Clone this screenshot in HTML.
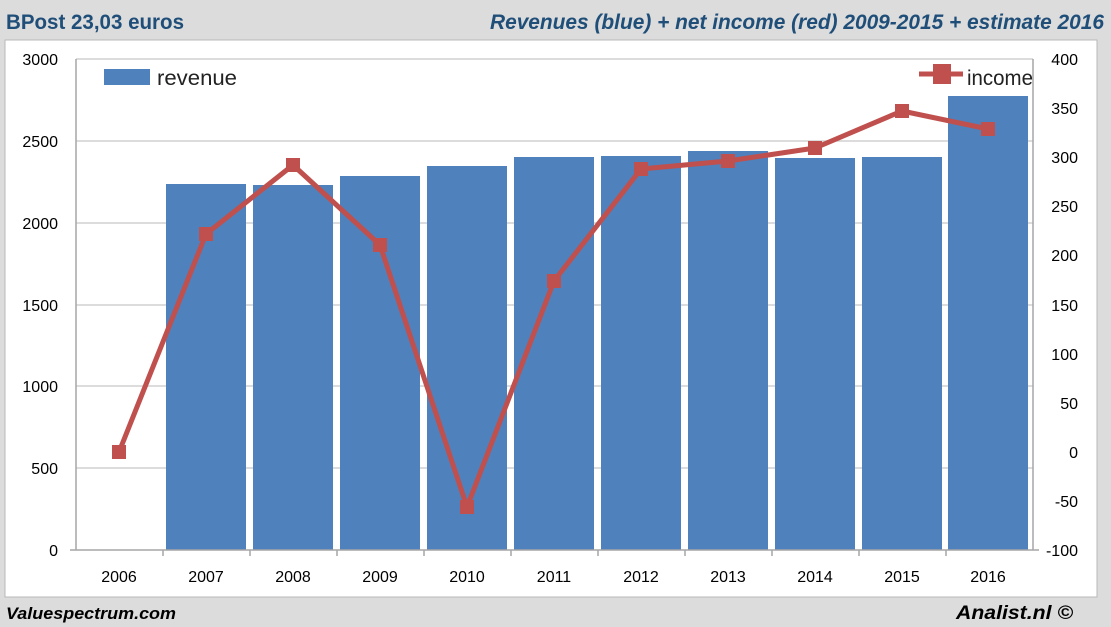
<!DOCTYPE html>
<html><head><meta charset="utf-8"><style>body{margin:0;background:#dcdcdc}svg{display:block}</style></head>
<body>
<svg width="1111" height="627" xmlns="http://www.w3.org/2000/svg" font-family="Liberation Sans, sans-serif">
<rect width="1111" height="627" fill="#dcdcdc"/>
<rect x="5" y="40" width="1092" height="557" fill="#fff" stroke="#b8b8b8"/>
<text x="6" y="29" font-size="21" font-weight="bold" fill="#1f4e79" textLength="178" lengthAdjust="spacingAndGlyphs">BPost 23,03 euros</text>
<text x="1104" y="29" font-size="21" font-weight="bold" font-style="italic" fill="#1f4e79" text-anchor="end" textLength="614" lengthAdjust="spacingAndGlyphs">Revenues (blue) + net income (red) 2009-2015 + estimate 2016</text>
<g stroke="#d0d0d0" stroke-width="1.5">
<line x1="76" y1="59" x2="1033" y2="59"/><line x1="76" y1="141" x2="1033" y2="141"/><line x1="76" y1="223" x2="1033" y2="223"/><line x1="76" y1="305" x2="1033" y2="305"/><line x1="76" y1="386" x2="1033" y2="386"/><line x1="76" y1="468" x2="1033" y2="468"/>
</g>
<g fill="#4f81bd">
<rect x="166" y="184" width="80" height="366"/><rect x="253" y="185" width="80" height="365"/><rect x="340" y="176" width="80" height="374"/><rect x="427" y="166" width="80" height="384"/><rect x="514" y="157" width="80" height="393"/><rect x="601" y="156" width="80" height="394"/><rect x="688" y="151" width="80" height="399"/><rect x="775" y="158" width="80" height="392"/><rect x="862" y="157" width="80" height="393"/><rect x="948" y="96" width="80" height="454"/>
</g>
<g stroke="#a6a6a6" stroke-width="1.5">
<line x1="76" y1="59" x2="76" y2="550"/><line x1="1033" y1="59" x2="1033" y2="550"/><line x1="70" y1="550" x2="1039" y2="550"/>
<line x1="163" y1="550" x2="163" y2="556"/><line x1="250" y1="550" x2="250" y2="556"/><line x1="337" y1="550" x2="337" y2="556"/><line x1="424" y1="550" x2="424" y2="556"/><line x1="511" y1="550" x2="511" y2="556"/><line x1="598" y1="550" x2="598" y2="556"/><line x1="685" y1="550" x2="685" y2="556"/><line x1="772" y1="550" x2="772" y2="556"/><line x1="859" y1="550" x2="859" y2="556"/><line x1="946" y1="550" x2="946" y2="556"/>
</g>
<g font-size="16" fill="#000" text-anchor="end">
<text x="58" y="65">3000</text><text x="58" y="147">2500</text><text x="58" y="229">2000</text><text x="58" y="311">1500</text><text x="58" y="392">1000</text><text x="58" y="474">500</text><text x="58" y="556">0</text>
</g>
<g font-size="16" fill="#000" text-anchor="end">
<text x="1078" y="65">400</text><text x="1078" y="114">350</text><text x="1078" y="163">300</text><text x="1078" y="212">250</text><text x="1078" y="261">200</text><text x="1078" y="311">150</text><text x="1078" y="360">100</text><text x="1078" y="409">50</text><text x="1078" y="458">0</text><text x="1078" y="507">-50</text><text x="1078" y="556">-100</text>
</g>
<g font-size="16" fill="#000" text-anchor="middle">
<text x="119" y="582">2006</text><text x="206" y="582">2007</text><text x="293" y="582">2008</text><text x="380" y="582">2009</text><text x="467" y="582">2010</text><text x="554" y="582">2011</text><text x="641" y="582">2012</text><text x="728" y="582">2013</text><text x="815" y="582">2014</text><text x="902" y="582">2015</text><text x="988" y="582">2016</text>
</g>
<polyline points="119,452 206,234 293,165 380,245 467,507 554,281 641,169 728,161 815,148 902,111 988,129" fill="none" stroke="#c0504d" stroke-width="5" stroke-linejoin="round"/>
<g fill="#c0504d">
<rect x="112" y="445" width="14" height="14"/><rect x="199" y="227" width="14" height="14"/><rect x="286" y="158" width="14" height="14"/><rect x="373" y="238" width="14" height="14"/><rect x="460" y="500" width="14" height="14"/><rect x="547" y="274" width="14" height="14"/><rect x="634" y="162" width="14" height="14"/><rect x="721" y="154" width="14" height="14"/><rect x="808" y="141" width="14" height="14"/><rect x="895" y="104" width="14" height="14"/><rect x="981" y="122" width="14" height="14"/>
</g>
<rect x="104" y="69" width="46" height="16" fill="#4f81bd"/>
<text x="157" y="85" font-size="21" fill="#222" textLength="80" lengthAdjust="spacingAndGlyphs">revenue</text>
<line x1="919" y1="74" x2="963" y2="74" stroke="#c0504d" stroke-width="5"/>
<rect x="933" y="64" width="18" height="20" fill="#c0504d"/>
<text x="967" y="85" font-size="21" fill="#222" textLength="66" lengthAdjust="spacingAndGlyphs">income</text>
<text x="6" y="619" font-size="17" font-weight="bold" font-style="italic" fill="#000" textLength="170" lengthAdjust="spacingAndGlyphs">Valuespectrum.com</text>
<text x="1073" y="619" font-size="19" font-weight="bold" font-style="italic" fill="#000" text-anchor="end" textLength="117" lengthAdjust="spacingAndGlyphs">Analist.nl ©</text>
</svg>
</body></html>
